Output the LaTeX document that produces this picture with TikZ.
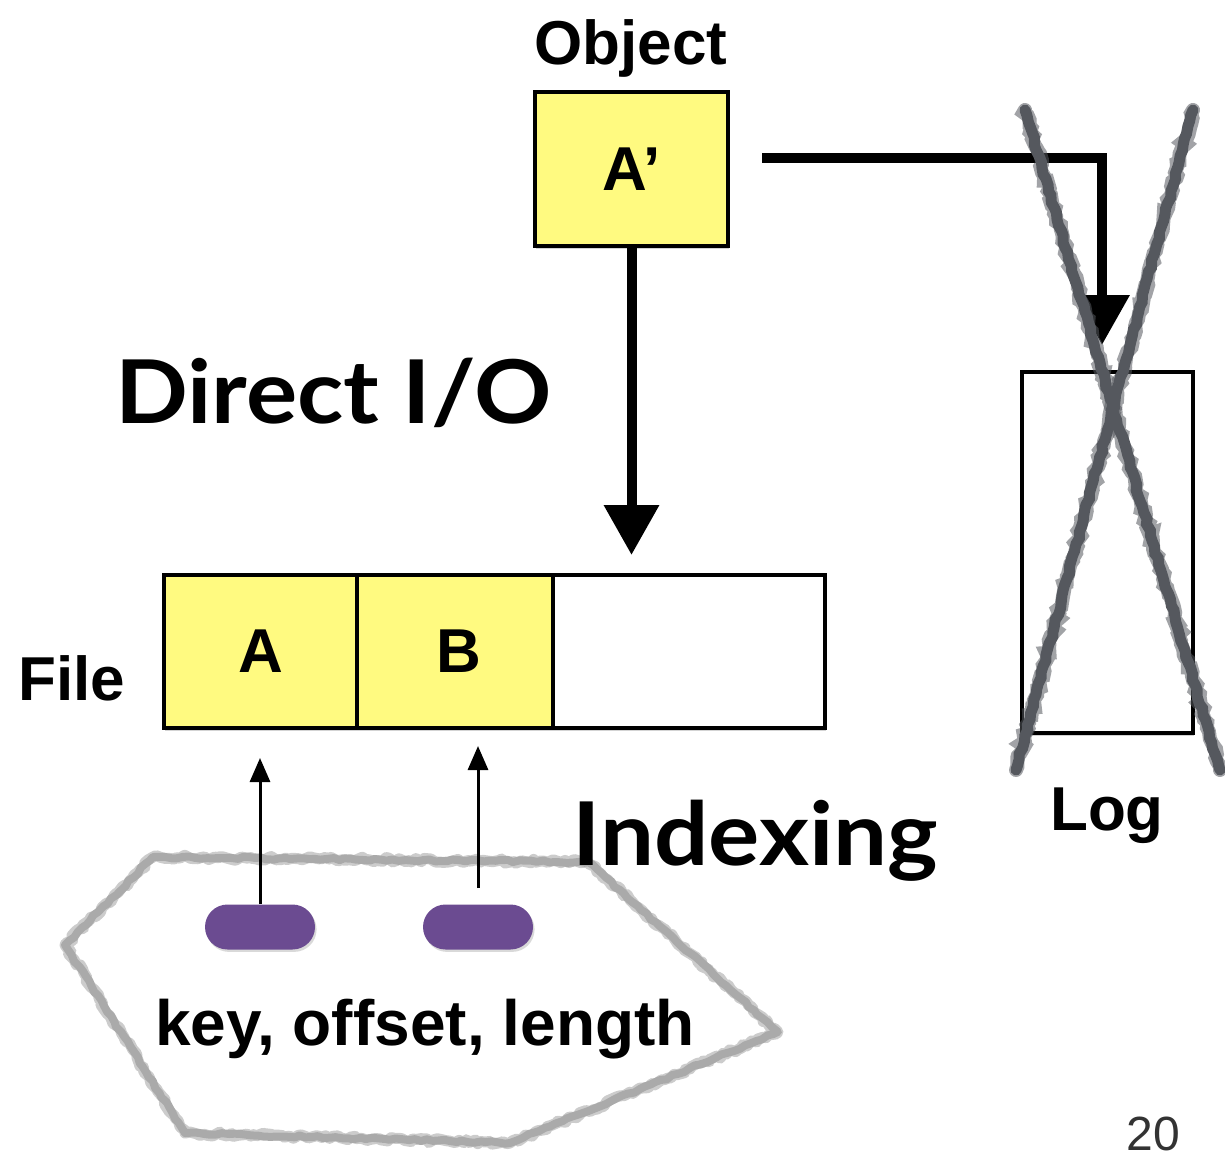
\documentclass[tikz,border=0pt]{standalone}
\usepackage{fontspec}
\setmainfont{Liberation Sans}
\newfontfamily\humanist[FakeStretch=1.09]{Lato}
\usetikzlibrary{arrows.meta,shadows,decorations.pathmorphing}

\definecolor{cellyellow}{RGB}{255,250,128}
\definecolor{pillpurple}{RGB}{107,75,145}
\definecolor{crossgray}{RGB}{85,88,94}
\definecolor{sketchgray}{RGB}{170,170,170}

\tikzset{
  cell/.style={draw=black, line width=2pt, inner sep=0pt, minimum height=76.5pt,
    font=\bfseries\fontsize{31}{36}\selectfont,
    drop shadow={shadow xshift=0.6pt, shadow yshift=-1.6pt, opacity=0.35}},
  pill/.style={fill=pillpurple, rounded corners=11.25pt, minimum width=55pt,
    minimum height=22.5pt, inner sep=0pt,
    drop shadow={shadow xshift=0.8pt, shadow yshift=-1.2pt, opacity=0.3}},
  bigarrow/.style={line width=5pt, line join=miter,
    -{Triangle[width=26.5pt,length=25pt]}},
  thinarrow/.style={line width=1.5pt, -{Triangle[width=10pt,length=12pt]}},
  label/.style={font=\bfseries\fontsize{31}{36}\selectfont, inner sep=0pt, anchor=base},
  headline/.style={font=\humanist\bfseries\fontsize{44}{50}\selectfont, inner sep=0pt, anchor=base west},
  rough/.style={decorate, decoration={random steps, segment length=3pt, amplitude=0.6pt}},
  rougher/.style={decorate, decoration={random steps, segment length=2pt, amplitude=1.1pt}},
}

\begin{document}
\begin{tikzpicture}[x=0.5pt, y=-0.5pt]
  \useasboundingbox (0,0) rectangle (1225,1156);

  % object being written
  \node[label] (objtitle) at (631,65) {Object};
  \node[cell, fill=cellyellow, minimum width=96.5pt] (aprime) at (631.5,169) {A’};

  % file with its three slots
  \node[cell, fill=cellyellow, minimum width=96.5pt] (cellA) at (260.5,651.5) {A};
  \node[cell, fill=cellyellow, minimum width=98pt] (cellB) at (455,651.5) {\hspace{4pt}B};
  \node[cell, fill=white, minimum width=136pt] (cellC) at (689,651.5) {};
  \node[label] (filelabel) at (72,700) {File};

  % log, crossed out
  \node[draw=black, fill=white, line width=2pt, minimum width=85.5pt, minimum height=180.5pt,
    inner sep=0pt, drop shadow={shadow xshift=0.6pt, shadow yshift=-1.6pt, opacity=0.35}]
    (logbox) at (1107.5,552.5) {};
  \node[label] (loglabel) at (1107,830) {Log};

  % write paths
  \coordinate (dioTip) at (631.5,555);
  \draw[bigarrow] (aprime.south) -- (dioTip);
  \coordinate (logStart) at (762,158);
  \coordinate (logTip) at (1102,345);
  \draw[bigarrow] (logStart) -| (logTip);

  % hand-drawn cross over the log
  \coordinate (crossA1) at (1025,110);
  \coordinate (crossA2) at (1220,770);
  \coordinate (crossB1) at (1193,110);
  \coordinate (crossB2) at (1016,770);
  \foreach \p/\q in {crossA1/crossA2, crossB1/crossB2} {
    \draw[rougher, crossgray, opacity=0.55, line width=7pt, line cap=round] (\p) -- (\q);
    \draw[rough, crossgray, line width=5.5pt, line cap=round] (\p) -- (\q);
  }

  \node[headline] (directio) at (115,423) {Direct I/O};

  % index region
  \coordinate (h1) at (153,857);
  \coordinate (h2) at (588,862);
  \coordinate (h3) at (778,1032);
  \coordinate (h4) at (510,1143);
  \coordinate (h5) at (185,1133);
  \coordinate (h6) at (65,945);
  \draw[rougher, sketchgray, opacity=0.6, line width=5.5pt, line join=round]
    (h1) -- (h2) -- (h3) -- (h4) -- (h5) -- (h6) -- cycle;
  \draw[rough, sketchgray, line width=4pt, line join=round]
    (h1) -- (h2) -- (h3) -- (h4) -- (h5) -- (h6) -- cycle;

  \node[pill] (pillA) at (260,927) {};
  \node[pill] (pillB) at (478,927) {};
  \coordinate (tipA) at (260,758);
  \coordinate (tipB) at (478,746);
  \draw[thinarrow] (pillA.north) -- (tipA);
  \draw[thinarrow] ([yshift=8pt]pillB.north) -- (tipB);

  \node[headline] (indexing) at (572,865) {Indexing};
  \node[label, font=\bfseries\fontsize{32}{36}\selectfont] (entries) at (425,1045) {key, offset, length};

  \node[font=\fontsize{24}{28}\selectfont, text=black!80, inner sep=0pt, anchor=base]
    (pagenum) at (1153,1150) {20};
\end{tikzpicture}
\end{document}
